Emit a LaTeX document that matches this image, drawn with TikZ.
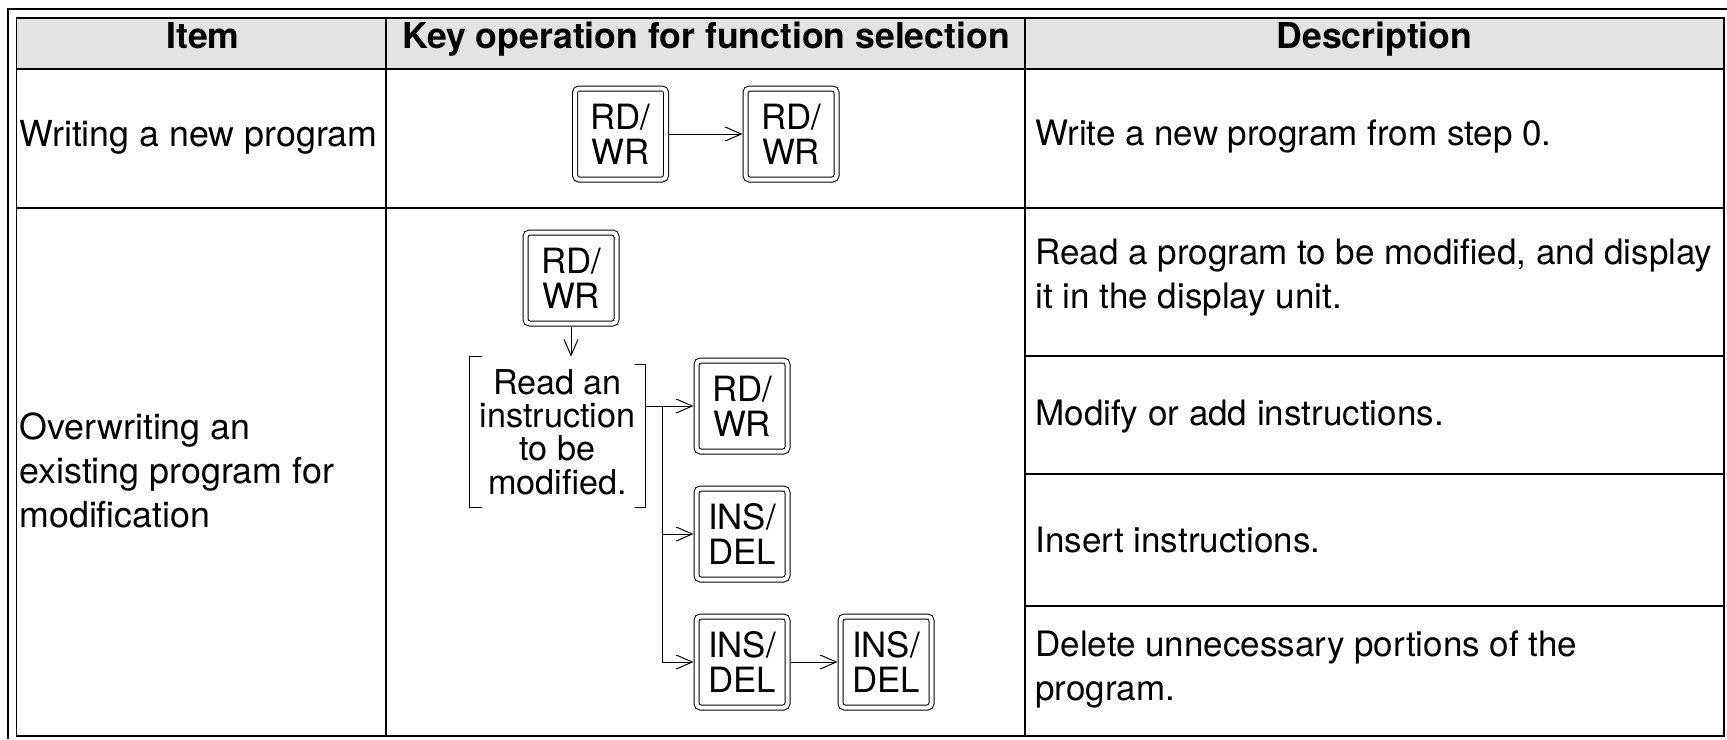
\documentclass[tikz,border=0pt]{standalone}
\usepackage{fontspec}
\setmainfont{TeX Gyre Heros}
\usepackage{tikz}
\usetikzlibrary {arrows.meta}
\usetikzlibrary {positioning}

\definecolor{headgray}{HTML}{E3E3E3}

\tikzset{
  keybox/.style={rectangle, draw, rounded corners=2pt, line width=0.5pt,
    double, double distance=2pt, minimum width=45.5pt, minimum height=45.5pt,
    inner sep=0pt, outer sep=1.5pt, align=center,
    font=\fontsize{17.4}{17.5}\selectfont},
  arr/.style={-{Straight Barb[length=8pt,width=7pt]}, line width=0.5pt},
  cell/.style={anchor=west, align=left, inner sep=0pt,
    font=\fontsize{17.5}{22}\selectfont},
  head/.style={anchor=base, inner sep=0pt, font=\bfseries\fontsize{17.8}{22}\selectfont},
  grid/.style={line width=0.85pt},
  brk/.style={line width=0.45pt}
}

\begin{document}
\begin{tikzpicture}[x=0.5pt, y=-0.5pt]
\useasboundingbox (0,0) rectangle (1727,739);

%table
\fill [headgray] (16.5,18) rectangle (1724,69);
\draw [grid] (8,739) -- (8,9) -- (1727,9);
\draw [grid] (16.5,18) rectangle (1724,736);
\draw [grid] (16.5,69) -- (1724,69);
\draw [grid] (16.5,208) -- (1724,208);
\draw [grid] (386,18) -- (386,736);
\draw [grid] (1025,18) -- (1025,736);
\foreach \y in {356,474,606}
  \draw [grid] (1025,\y) -- (1724,\y);

%header
\node [head] (h_item) at (203,48) {Item};
\node [head] (h_key) at (706,48) {Key operation for function selection};
\node [head] (h_desc) at (1374.5,48) {Description};

%writing a new program
\node [cell, font=\fontsize{17.9}{22}\selectfont] (item_new) at (19,137) {Writing a new program};
\node [keybox] (wr_a) at (620.5,134) {RD/\\WR};
\node [keybox] (wr_b) [right=36.75pt of wr_a] {RD/\\WR};
\draw [arr] (wr_a) to (wr_b);
\node [cell] (desc_new) at (1035,137) {Write a new program from step 0.};

%overwriting
\node [cell, font=\fontsize{17.9}{22}\selectfont] (item_mod) at (19,470)
  {Overwriting an\\existing program for\\modification};
\node [keybox] (rdwr) at (571,278) {RD/\\WR};
\node [minimum width=87.5pt, minimum height=75pt, inner sep=0pt, align=center,
  font=\fontsize{17.1}{16.6}\selectfont] (readins) at (557.5,432)
  {Read an\\instruction\\to be\\modified.};
\draw [brk] ([xshift=6pt]readins.north west) -- (readins.north west)
  -- (readins.south west) -- ([xshift=6pt]readins.south west);
\draw [brk] ([xshift=-5pt,yshift=-4pt]readins.north east) -- ([yshift=-4pt]readins.north east)
  -- (readins.south east) -- ([xshift=-5pt]readins.south east);
\draw [arr] (rdwr.south) to (rdwr.south |- readins.north);

\node [keybox] (modwr) at (742,406) {RD/\\WR};
\node [keybox] (ins) [below=15.5pt of modwr] {INS/\\DEL};
\node [keybox] (del_a) [below=15.5pt of ins] {INS/\\DEL};
\node [keybox] (del_b) [right=23.5pt of del_a] {INS/\\DEL};

%branches
\path (readins.east |- modwr) ++(8.5pt,0) coordinate (fork);
\draw [arr] (readins.east |- modwr) to (modwr);
\draw [line width=0.5pt] (fork) -- (fork |- del_a);
\draw [arr] (fork |- ins) to (ins);
\draw [arr] (fork |- del_a) to (del_a);
\draw [arr] (del_a) to (del_b);

%descriptions
\node [cell] (desc_read) at (1035,278) {Read a program to be modified, and display\\it in the display unit.};
\node [cell] (desc_modify) at (1035,416) {Modify or add instructions.};
\node [cell] (desc_insert) at (1035,540) {Insert instructions.};
\node [cell] (desc_delete) at (1035,669) {Delete unnecessary portions of the\\program.};

\end{tikzpicture}
\end{document}
